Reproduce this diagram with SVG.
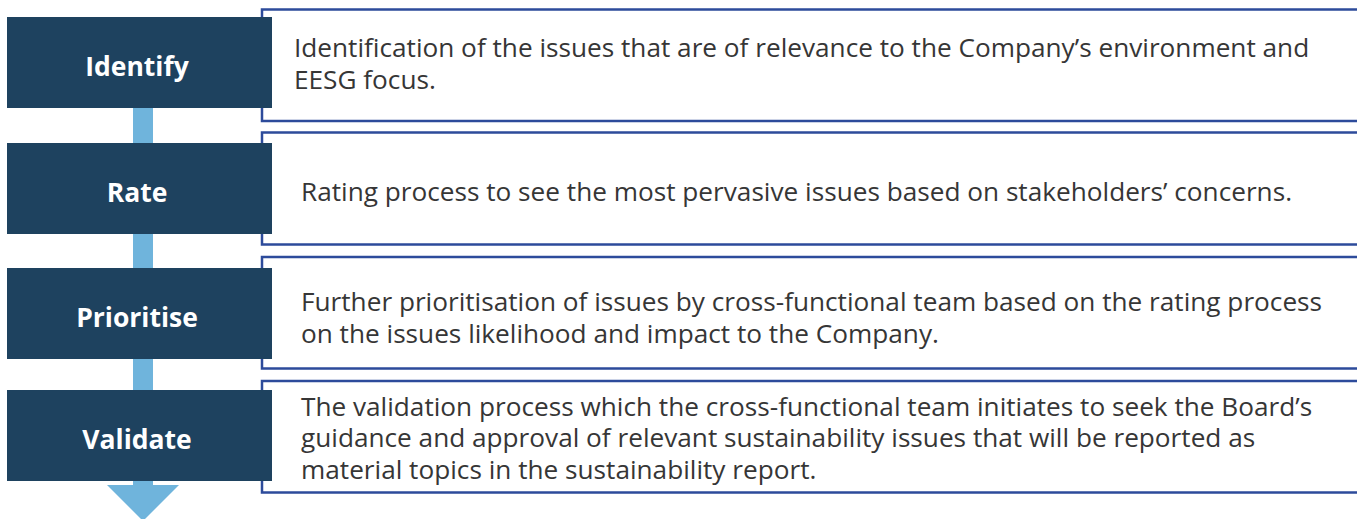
<svg xmlns="http://www.w3.org/2000/svg" width="1357" height="519" viewBox="0 0 1357 519">
  <style>
    .panel { fill: #ffffff; stroke: #2d4b9b; stroke-width: 2.5; }
    .step { fill: #1e425f; }
    .label { font-family: "Open Sans", "Liberation Sans", sans-serif; font-weight: 700; font-size: 26.5px; fill: #ffffff; text-anchor: middle; }
    .desc { font-family: "Open Sans", "Liberation Sans", sans-serif; font-size: 26.2px; fill: #363636; }
    .flow { fill: #6fb4dc; }
  </style>
  <rect width="1357" height="519" fill="#ffffff"/>
  <g id="connectors">
    <rect class="flow" x="133" y="100" width="20" height="388"/>
    <polygon class="flow" points="107,485 179,485 143,521"/>
  </g>
  <g id="identify">
    <rect class="panel" x="262" y="9.5" width="1110" height="111.5"/>
    <rect class="step" x="7" y="17" width="265" height="91"/>
    <text class="label" x="137" y="76">Identify</text>
    <text class="desc" x="294" y="57">Identification of the issues that are of relevance to the Company’s environment and</text>
    <text class="desc" x="294" y="89">EESG focus.</text>
  </g>
  <g id="rate">
    <rect class="panel" x="262" y="132.5" width="1110" height="112"/>
    <rect class="step" x="7" y="143" width="265" height="91"/>
    <text class="label" x="137" y="201.5">Rate</text>
    <text class="desc" x="301" y="200.5">Rating process to see the most pervasive issues based on stakeholders’ concerns.</text>
  </g>
  <g id="prioritise">
    <rect class="panel" x="262" y="257" width="1110" height="111.5"/>
    <rect class="step" x="7" y="268" width="265" height="91"/>
    <text class="label" x="137" y="326.5">Prioritise</text>
    <text class="desc" x="301" y="311">Further prioritisation of issues by cross-functional team based on the rating process</text>
    <text class="desc" x="301" y="342.5">on the issues likelihood and impact to the Company.</text>
  </g>
  <g id="validate">
    <rect class="panel" x="262" y="381" width="1110" height="111.5"/>
    <rect class="step" x="7" y="390" width="265" height="91"/>
    <text class="label" x="137" y="448.5">Validate</text>
    <text class="desc" x="301" y="415.5">The validation process which the cross-functional team initiates to seek the Board’s</text>
    <text class="desc" x="301" y="447">guidance and approval of relevant sustainability issues that will be reported as</text>
    <text class="desc" x="301" y="478.5">material topics in the sustainability report.</text>
  </g>
</svg>
